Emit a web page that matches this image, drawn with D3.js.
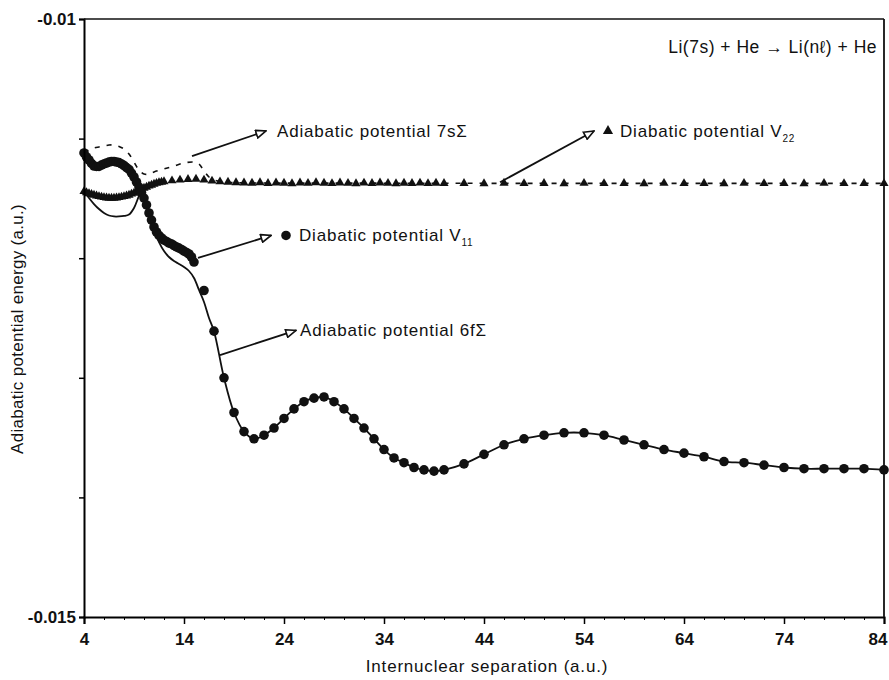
<!DOCTYPE html>
<html>
<head>
<meta charset="utf-8">
<script src="https://cdn.jsdelivr.net/npm/d3@7"></script>
<style>
  body { margin: 0; background: #fff; }
  text { font-family: "Liberation Sans", Arial, Helvetica, sans-serif; fill: #111; }
</style>
</head>
<body>
<div id="chart-area"></div>
<script>
// SVG size
const width = 889,
	height = 680;
const margin = {left: 84, right: 5, top: 19, bottom: 63};

// Diabatic potential V11 (circles)
const v11R = [4, 4.25, 4.5, 4.75, 5, 5.25, 5.5, 5.75, 6, 6.25, 6.5, 6.75, 7, 7.25, 7.5, 7.75, 8, 8.25, 8.5, 8.75,
	9, 9.25, 9.5, 9.75, 10, 10.25, 10.5, 10.75, 11, 11.25, 11.5, 11.75, 12, 12.25, 12.5, 12.75, 13, 13.25, 13.5,
	13.75, 14, 14.25, 14.5, 14.75, 15,
	16, 17, 18, 19, 20, 21, 22, 23, 24, 25, 26, 27, 28, 29, 30, 31, 32, 33, 34, 35, 36, 37, 38, 39, 40,
	42, 44, 46, 48, 50, 52, 54, 56, 58, 60, 62, 64, 66, 68, 70, 72, 74, 76, 78, 80, 82, 84];
const v11E = [-0.011120, -0.011154, -0.011179, -0.011208, -0.011229, -0.011233, -0.011233, -0.011221, -0.011212,
	-0.011204, -0.011196, -0.011191, -0.011191, -0.011196, -0.011200, -0.011212, -0.011225, -0.011242, -0.011258,
	-0.011288, -0.011321, -0.011363, -0.011405, -0.011451, -0.011497, -0.011555, -0.011622, -0.011681, -0.011739,
	-0.011781, -0.011810, -0.011831, -0.011848, -0.011860, -0.011873, -0.011881, -0.011894, -0.011906, -0.011915,
	-0.011927, -0.011940, -0.011952, -0.011965, -0.011990, -0.012032,
	-0.01227, -0.01261, -0.01300, -0.01329, -0.01345, -0.01351, -0.01348, -0.01342, -0.01334, -0.01326, -0.01320,
	-0.01317, -0.01316, -0.01320, -0.01326, -0.01334, -0.01342, -0.01351, -0.01360, -0.01367, -0.01371, -0.01375,
	-0.01377, -0.01378, -0.01377,
	-0.01372, -0.01364, -0.01356, -0.01351, -0.01348, -0.01346, -0.01346, -0.01348, -0.01352, -0.01356, -0.01360,
	-0.01363, -0.01366, -0.01370, -0.01371, -0.01373, -0.01375, -0.01376, -0.01376, -0.01376, -0.01376, -0.01377];

// Diabatic potential V22 (triangles)
const v22R = [4, 4.25, 4.5, 4.75, 5, 5.25, 5.5, 5.75, 6, 6.25, 6.5, 6.75, 7, 7.25, 7.5, 7.75, 8, 8.25, 8.5, 8.75,
	9, 9.25, 9.5, 9.75, 10, 10.25, 10.5, 10.75, 11, 11.25, 11.5, 11.75, 12,
	12.8, 13.6, 14.4, 15.2, 16, 16.8, 17.6, 18.4, 19.2, 20, 20.8, 21.6, 22.4, 23.2, 24, 24.8, 25.6, 26.4, 27.2,
	28, 28.8, 29.6, 30.4, 31.2, 32, 32.8, 33.6, 34.4, 35.2, 36, 36.8, 37.6, 38.4, 39.2, 40,
	42, 44, 46, 48, 50, 52, 54, 56, 58, 60, 62, 64, 66, 68, 70, 72, 74, 76, 78, 80, 82, 84];
const v22E = [-0.011442, -0.011451, -0.011459, -0.011466, -0.011472, -0.011478, -0.011484, -0.011488, -0.011492,
	-0.011495, -0.011497, -0.011497, -0.011497, -0.011495, -0.011492, -0.011488, -0.011484, -0.011478, -0.011472,
	-0.011463, -0.011455, -0.011445, -0.011434, -0.011423, -0.011413, -0.011405, -0.011396, -0.011388, -0.011380,
	-0.011373, -0.011367, -0.011363, -0.011359,
	-0.011352, -0.011346, -0.011340, -0.011338, -0.011346, -0.011354, -0.011360, -0.011364, -0.011367, -0.011370,
	-0.011372, -0.011368, -0.011374, -0.011370, -0.011372, -0.011376, -0.011370, -0.011373, -0.011368, -0.011372,
	-0.011375, -0.011370, -0.011373, -0.011376, -0.011371, -0.011374, -0.011370, -0.011373, -0.011376, -0.011372,
	-0.011374, -0.011371, -0.011375, -0.011372, -0.011374,
	-0.011374, -0.011376, -0.011372, -0.011375, -0.011374, -0.011376, -0.011373, -0.011375, -0.011374, -0.011376,
	-0.011373, -0.011375, -0.011374, -0.011376, -0.011373, -0.011375, -0.011374, -0.011376, -0.011373, -0.011375,
	-0.011374, -0.011375];

// Adiabatic potential 7s Sigma (dashed)
const a7sR = [4, 4.5, 5, 5.5, 6, 6.5, 7, 7.5, 8, 8.5, 9, 9.5, 10, 10.5, 11, 12, 13, 14, 15, 15.5, 16, 16.5, 17, 18,
	20, 25, 30, 35, 40, 45, 50, 55, 60, 65, 70, 75, 80, 84];
const a7sE = [-0.011120, -0.011095, -0.011079, -0.011070, -0.011062, -0.011054, -0.011054, -0.011066, -0.011087,
	-0.011129, -0.011196, -0.011263, -0.011296, -0.011296, -0.011279, -0.011254, -0.011229, -0.011204, -0.011196,
	-0.011212, -0.011271, -0.011321, -0.011346, -0.011363, -0.011370, -0.011372, -0.011372, -0.011373, -0.011373,
	-0.011374, -0.011374, -0.011374, -0.011374, -0.011374, -0.011374, -0.011374, -0.011374, -0.011374];

// Adiabatic potential 6f Sigma (thin solid), short range part; beyond R = 17 it runs on the V11 points
const a6fR = [4, 4.5, 5, 5.5, 6, 6.5, 7, 7.5, 8, 8.5, 9, 9.5, 9.75, 10, 10.5, 11, 11.5, 12, 12.5, 13, 13.5, 14,
	14.5, 15, 15.5, 16, 16.5];
const a6fE = [-0.011438, -0.011497, -0.011547, -0.011589, -0.011622, -0.011643, -0.011651, -0.011651, -0.011647,
	-0.011635, -0.011580, -0.011480, -0.011446, -0.011513, -0.011639, -0.011764, -0.011865, -0.011940, -0.011990,
	-0.012023, -0.012048, -0.012074, -0.012107, -0.012166, -0.012266, -0.012366, -0.012500];

// Axis ticks
const xMajorTicks = [4, 14, 24, 34, 44, 54, 64, 74, 84];
const xMinorTicks = d3.range(4, 85, 2);
const yTicks = [-0.010, -0.011, -0.012, -0.013, -0.014, -0.015];
const yTickLabels = {"-0.01": "-0.01", "-0.015": "-0.015"};

const v11 = v11R.map((r, i) => ({r: r, e: v11E[i]}));
const v22 = v22R.map((r, i) => ({r: r, e: v22E[i]}));
const a7s = a7sR.map((r, i) => ({r: r, e: a7sE[i]}));
const a6f = a6fR.map((r, i) => ({r: r, e: a6fE[i]})).concat(v11.filter(d => d.r >= 17));

drawChart();

function drawChart() {

	let svg = d3.select("#chart-area")
		.append("svg")
		.attr("width", width)
		.attr("height", height);

	const x = d3.scaleLinear()
		.domain([4, 84])
		.range([margin.left, width - margin.right]);

	const y = d3.scaleLinear()
		.domain([-0.015, -0.01])
		.range([height - margin.bottom, margin.top]);

	// arrow head (open triangle)
	svg.append("defs").append("marker")
		.attr("id", "head")
		.attr("viewBox", "0 0 12 10")
		.attr("refX", 11)
		.attr("refY", 5)
		.attr("markerWidth", 12)
		.attr("markerHeight", 10)
		.attr("markerUnits", "userSpaceOnUse")
		.attr("orient", "auto")
		.append("path")
		.attr("d", "M1,1 L11,5 L1,9 Z")
		.attr("fill", "#fff")
		.attr("stroke", "#111")
		.attr("stroke-width", 1.6);

	const line = d3.line()
		.x(d => x(d.r))
		.y(d => y(d.e))
		.curve(d3.curveCatmullRom.alpha(0.5));

	// adiabatic 7s Sigma, dashed
	svg.append("path")
		.datum(a7s)
		.attr("d", line)
		.attr("fill", "none")
		.attr("stroke", "#111")
		.attr("stroke-width", 1.6)
		.attr("stroke-dasharray", "5,7");

	// adiabatic 6f Sigma, thin solid
	svg.append("path")
		.datum(a6f)
		.attr("d", line)
		.attr("fill", "none")
		.attr("stroke", "#111")
		.attr("stroke-width", 1.8);

	// V22 triangles
	svg.selectAll(".tri")
		.data(v22)
		.enter()
		.append("path")
		.attr("class", "tri")
		.attr("transform", d => "translate(" + x(d.r) + "," + y(d.e) + ")")
		.attr("d", d3.symbol().type(d3.symbolTriangle).size(36))
		.attr("fill", "#111");

	// V11 circles
	svg.selectAll(".dot")
		.data(v11)
		.enter()
		.append("circle")
		.attr("class", "dot")
		.attr("cx", d => x(d.r))
		.attr("cy", d => y(d.e))
		.attr("r", 4.8)
		.attr("fill", "#111");

	// Axes
	const xAxis = d3.axisBottom(x).tickValues(xMajorTicks).tickSize(7).tickFormat(d3.format("d"));
	const xMinor = d3.axisBottom(x).tickValues(xMinorTicks).tickSize(3).tickFormat("");
	const yAxis = d3.axisLeft(y).tickValues(yTicks).tickSize(5)
		.tickFormat(d => yTickLabels[String(+d.toFixed(3))] || "");

	svg.append("g")
		.attr("class", "x-axis")
		.attr("transform", "translate(0," + (height - margin.bottom) + ")")
		.call(xAxis)
		.call(g => g.select(".domain").attr("stroke-width", 2))
		.call(g => g.selectAll(".tick line").attr("stroke-width", 1.5))
		.call(g => g.selectAll(".tick text")
			.attr("dy", "1.05em")
			.attr("fill", "#111")
			.attr("font-size", 17)
			.attr("font-weight", "bold"))
		.call(g => g.selectAll(".tick text").filter(d => d === 84)
			.attr("text-anchor", "end")
			.attr("x", 3));

	svg.append("g")
		.attr("class", "x-minor")
		.attr("transform", "translate(0," + (height - margin.bottom) + ")")
		.call(xMinor)
		.call(g => g.select(".domain").remove());

	svg.append("g")
		.attr("class", "y-axis")
		.attr("transform", "translate(" + margin.left + ",0)")
		.call(yAxis)
		.call(g => g.select(".domain").attr("stroke-width", 2))
		.call(g => g.selectAll(".tick line").attr("stroke-width", 1.5))
		.call(g => g.selectAll(".tick text")
			.attr("x", -8)
			.attr("fill", "#111")
			.attr("font-size", 17)
			.attr("font-weight", "bold"));

	// top and right frame
	svg.append("line")
		.attr("x1", x(4)).attr("x2", x(84))
		.attr("y1", y(-0.01)).attr("y2", y(-0.01))
		.attr("stroke", "#111").attr("stroke-width", 1.5);
	svg.append("line")
		.attr("x1", x(84)).attr("x2", x(84))
		.attr("y1", y(-0.01)).attr("y2", y(-0.015))
		.attr("stroke", "#111").attr("stroke-width", 1.8);

	// Title
	svg.append("text")
		.attr("x", x(83.3))
		.attr("y", 53)
		.attr("text-anchor", "end")
		.attr("font-size", 17.5)
		.attr("letter-spacing", 0.5)
		.text("Li(7s) + He \u2192 Li(n\u2113) + He");

	// Annotations: arrows from curves to labels
	const arrows = [
		{from: [14.8, -0.011146], to: [22.2, -0.010936]},
		{from: [45.6, -0.011365], to: [55.0, -0.010936]},
		{from: [15.4, -0.011998], to: [22.7, -0.011810]},
		{from: [17.6, -0.012810], to: [25.2, -0.012604]}
	];
	svg.selectAll(".arrow")
		.data(arrows)
		.enter()
		.append("line")
		.attr("class", "arrow")
		.attr("x1", d => x(d.from[0])).attr("y1", d => y(d.from[1]))
		.attr("x2", d => x(d.to[0])).attr("y2", d => y(d.to[1]))
		.attr("stroke", "#111")
		.attr("stroke-width", 1.8)
		.attr("marker-end", "url(#head)");

	// label symbols
	svg.append("path")
		.attr("transform", "translate(" + x(56.4) + "," + y(-0.010936) + ")")
		.attr("d", d3.symbol().type(d3.symbolTriangle).size(45))
		.attr("fill", "#111");
	svg.append("circle")
		.attr("cx", x(24.2))
		.attr("cy", y(-0.011810))
		.attr("r", 4.8)
		.attr("fill", "#111");

	const lab = (rx, ey, txt) => svg.append("text")
		.attr("x", x(rx))
		.attr("y", y(ey))
		.attr("dy", "0.35em")
		.attr("font-size", 17)
		.attr("letter-spacing", 0.8)
		.text(txt);

	lab(23.3, -0.010936, "Adiabatic potential 7s\u03A3");
	lab(25.6, -0.012604, "Adiabatic potential 6f\u03A3");
	lab(25.5, -0.011810, "Diabatic potential V")
		.append("tspan").attr("font-size", 10).attr("dy", "0.5em").text("11");
	lab(57.6, -0.010936, "Diabatic potential V")
		.append("tspan").attr("font-size", 10).attr("dy", "0.5em").text("22");

	// Label x-axis
	svg.append("text")
		.attr("class", "x-axis-label")
		.attr("text-anchor", "middle")
		.attr("x", 487)
		.attr("y", 672)
		.attr("font-size", 17)
		.attr("letter-spacing", 0.8)
		.text("Internuclear separation (a.u.)");

	// Label y-axis
	svg.append("text")
		.attr("class", "y-axis-label")
		.attr("text-anchor", "middle")
		.attr("transform", "rotate(-90)")
		.attr("x", -329)
		.attr("y", 23)
		.attr("font-size", 17)
		.attr("letter-spacing", 0.3)
		.text("Adiabatic potential energy (a.u.)");
}
</script>
</body>
</html>
